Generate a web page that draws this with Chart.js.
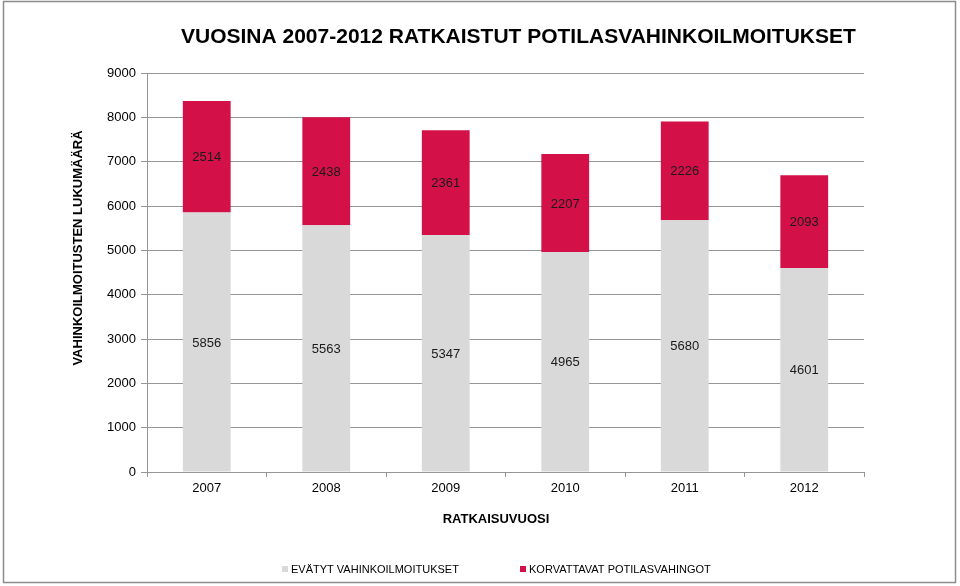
<!DOCTYPE html>
<html>
<head>
<meta charset="utf-8">
<script src="https://cdn.jsdelivr.net/npm/chart.js@4/dist/chart.umd.min.js"></script>
<style>
	html, body { margin: 0; padding: 0; background: #fff; }
	canvas { display: block; }
</style>
</head>
<body>
<canvas id="myChart" width="960" height="586"></canvas>
<script>
const years = ['2007', '2008', '2009', '2010', '2011', '2012'];
const evatyt = [5856, 5563, 5347, 4965, 5680, 4601];
const korvattavat = [2514, 2438, 2361, 2207, 2226, 2093];
const seriesNames = ['EVÄTYT VAHINKOILMOITUKSET', 'KORVATTAVAT POTILASVAHINGOT'];
const titleText = 'VUOSINA 2007-2012 RATKAISTUT POTILASVAHINKOILMOITUKSET';
const yTitle = 'VAHINKOILMOITUSTEN LUKUMÄÄRÄ';
const xTitle = 'RATKAISUVUOSI';

const grayColor = '#D9D9D9';
const redColor = '#D31148';
const gridColor = '#969696';
const fontFamily = '"Liberation Sans", Arial, Helvetica, sans-serif';

// frame, titles, legend and value labels
const extras = {
	id: 'extras',
	beforeDraw(chart) {
		const c = chart.ctx;
		c.save();
		c.strokeStyle = '#8c8c8c';
		c.lineWidth = 1.5;
		c.strokeRect(3.5, 1.5, 952, 581);
		c.restore();
	},
	afterDatasetsDraw(chart) {
		const c = chart.ctx;
		c.save();
		c.font = '13px ' + fontFamily;
		c.fillStyle = '#1a1a1a';
		c.textAlign = 'center';
		c.textBaseline = 'middle';
		chart.data.datasets.forEach(function (ds, i) {
			chart.getDatasetMeta(i).data.forEach(function (bar, j) {
				c.fillText(ds.data[j], bar.x, (bar.y + bar.base) / 2 + 1);
			});
		});
		c.restore();
	},
	afterDraw(chart) {
		const c = chart.ctx;
		c.save();
		c.fillStyle = '#000';
		c.textBaseline = 'middle';
		c.textAlign = 'left';
		c.font = 'bold 21px ' + fontFamily;
		c.fillText(titleText, 181, 37);

		c.textAlign = 'center';
		c.font = 'bold 13px ' + fontFamily;
		c.fillText(xTitle, 496, 519);

		c.save();
		c.translate(78, 248);
		c.rotate(-Math.PI / 2);
		c.fillText(yTitle, 0, 0);
		c.restore();

		// legend
		c.font = '11px ' + fontFamily;
		c.textAlign = 'left';
		const items = [
			{ x: 282, color: grayColor, text: seriesNames[0] },
			{ x: 520, color: redColor, text: seriesNames[1] }
		];
		items.forEach(function (it) {
			c.fillStyle = it.color;
			c.fillRect(it.x, 566, 6, 6);
			c.fillStyle = '#000';
			c.fillText(it.text, it.x + 9, 569.5);
		});
		c.restore();
	}
};

const ctx = document.getElementById('myChart');
new Chart(ctx, {
	type: 'bar',
	data: {
		labels: years,
		datasets: [{
			label: seriesNames[0],
			data: evatyt,
			backgroundColor: grayColor,
			borderWidth: 0
		}, {
			label: seriesNames[1],
			data: korvattavat,
			backgroundColor: redColor,
			borderWidth: 0
		}]
	},
	options: {
		responsive: false,
		animation: false,
		categoryPercentage: 0.8,
		barPercentage: 0.5,
		layout: {
			padding: { top: 73, right: 96, bottom: 84, left: 0 }
		},
		plugins: {
			legend: { display: false },
			title: { display: false },
			tooltip: { enabled: false }
		},
		scales: {
			x: {
				stacked: true,
				offset: true,
				afterFit: function (scale) { scale.height = 30; },
				grid: {
					drawOnChartArea: false,
					drawTicks: true,
					tickLength: 5,
					color: gridColor
				},
				border: { color: gridColor, width: 1 },
				ticks: {
					padding: 4,
					color: '#000',
					font: { family: fontFamily, size: 13 }
				}
			},
			y: {
				stacked: true,
				min: 0,
				max: 9000,
				afterFit: function (scale) { scale.width = 147; },
				grid: {
					color: gridColor,
					tickLength: 6
				},
				border: { color: gridColor, width: 1 },
				ticks: {
					stepSize: 1000,
					padding: 5,
					color: '#000',
					font: { family: fontFamily, size: 13 },
					callback: function (value) { return String(value); }
				}
			}
		}
	},
	plugins: [extras]
});
</script>
</body>
</html>
